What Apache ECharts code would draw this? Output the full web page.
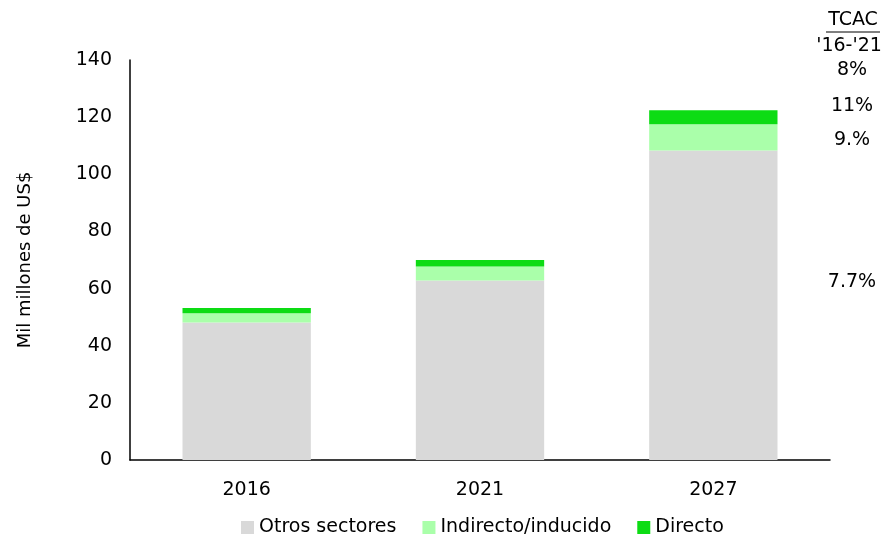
<!DOCTYPE html>
<html>
<head>
<meta charset="utf-8">
<script src="https://cdn.jsdelivr.net/npm/echarts@6/dist/echarts.min.js"></script>
<style>
  html, body { margin: 0; padding: 0; background: #fff; }
  #chart { width: 882px; height: 537px; }
</style>
</head>
<body>
<div id="chart"></div>
<script>
// Years on the category axis
const years = ['2016', '2021', '2027'];
// Stacked contributions, thousand million US$
const otrosSectores = [48.1, 62.8, 108.3];
const indirectoInducido = [3.3, 4.9, 9.2];
const directo = [1.8, 2.3, 4.9];
// Growth-rate annotations on the right-hand side
const tcacHeader = ['TCAC', "'16-'21"];
const tcacRates = ['8%', '11%', '9.%', '7.7%'];

const FONT = '"DejaVu Sans", "Noto Sans", sans-serif';
const chart = echarts.init(document.getElementById('chart'));

// Vertical placement of each rate label (pixels from the top)
const rateY = [70, 106, 140, 282];

const graphics = [];
graphics.push({
  type: 'text', x: 853, y: 20,
  style: { text: tcacHeader[0], font: '19px ' + FONT, fill: '#000', align: 'center', verticalAlign: 'middle' }
});
graphics.push({
  type: 'line', shape: { x1: 826, y1: 32, x2: 880, y2: 32 },
  style: { stroke: '#000', lineWidth: 1 }
});
graphics.push({
  type: 'text', x: 849, y: 46,
  style: { text: tcacHeader[1], font: '19px ' + FONT, fill: '#000', align: 'center', verticalAlign: 'middle' }
});
tcacRates.forEach((t, i) => {
  graphics.push({
    type: 'text', x: 852, y: rateY[i],
    style: { text: t, font: '19px ' + FONT, fill: '#000', align: 'center', verticalAlign: 'middle' }
  });
});

chart.setOption({
  animation: false,
  backgroundColor: '#fff',
  grid: { left: 130, right: 52, top: 60, bottom: 77 },
  legend: {
    left: 236,
    top: 513,
    itemWidth: 13,
    itemHeight: 13,
    itemGap: 26,
    icon: 'rect',
    textStyle: { fontFamily: FONT, fontSize: 19, color: '#000' },
    data: ['Otros sectores', 'Indirecto/inducido', 'Directo']
  },
  xAxis: {
    type: 'category',
    data: years,
    axisLine: { lineStyle: { color: '#000', width: 1.5 } },
    axisTick: { show: false },
    axisLabel: { fontFamily: FONT, fontSize: 19, color: '#000', margin: 21 }
  },
  yAxis: {
    type: 'value',
    min: 0, max: 140, interval: 20,
    name: 'Mil millones de US$',
    nameLocation: 'middle',
    nameGap: 96,
    nameTextStyle: { fontFamily: FONT, fontSize: 18, color: '#000' },
    axisLine: { show: true, lineStyle: { color: '#000', width: 1.5 } },
    axisTick: { show: false },
    splitLine: { show: false },
    axisLabel: { fontFamily: FONT, fontSize: 19, color: '#000', margin: 18 }
  },
  series: [
    {
      name: 'Otros sectores', type: 'bar', stack: 'total', barWidth: '55%',
      itemStyle: { color: '#d9d9d9' }, data: otrosSectores
    },
    {
      name: 'Indirecto/inducido', type: 'bar', stack: 'total',
      itemStyle: { color: '#aaffaa' }, data: indirectoInducido
    },
    {
      name: 'Directo', type: 'bar', stack: 'total',
      itemStyle: { color: '#0ddc14' }, data: directo
    }
  ],
  graphic: graphics
});
</script>
</body>
</html>
